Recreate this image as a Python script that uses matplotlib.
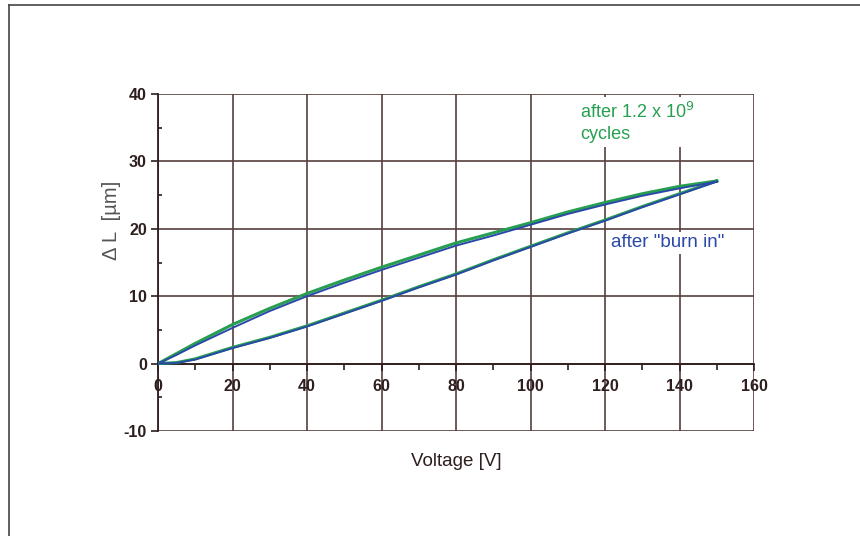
import numpy as np
import matplotlib
matplotlib.use("Agg")
from matplotlib import pyplot as plt
from matplotlib.lines import Line2D
from matplotlib.ticker import MultipleLocator

plt.rcParams["font.family"] = ["Liberation Sans", "DejaVu Sans"]
plt.rcParams["axes.unicode_minus"] = False

# ------ data

# after "burn in" (blue)
burn_up_v = [150, 140, 130, 120, 110, 100, 90, 80, 70, 60, 50, 40, 30, 20, 10, 5, 0]
burn_up_dl = [27.0, 26.0, 24.9, 23.6, 22.2, 20.6, 19.0, 17.5, 15.7, 13.9, 12.0, 10.0, 7.8, 5.3, 2.7, 1.3, 0.0]
burn_lo_v = [0, 5, 10, 20, 30, 40, 50, 60, 70, 80, 90, 100, 110, 120, 130, 140, 150]
burn_lo_dl = [0.0, 0.1, 0.6, 2.3, 3.8, 5.5, 7.4, 9.3, 11.3, 13.2, 15.3, 17.3, 19.3, 21.2, 23.2, 25.1, 27.0]

# after 1.2e9 cycles (green)
cyc_up_v = [150, 140, 130, 120, 110, 100, 90, 80, 70, 60, 50, 40, 30, 20, 10, 5, 0]
cyc_up_dl = [27.1, 26.3, 25.2, 23.9, 22.5, 20.9, 19.4, 17.9, 16.1, 14.3, 12.4, 10.4, 8.2, 5.8, 3.0, 1.5, 0.0]
cyc_lo_v = [0, 5, 10, 20, 30, 40, 50, 60, 70, 80, 90, 100, 110, 120, 130, 140, 150]
cyc_lo_dl = [0.0, 0.15, 0.7, 2.4, 3.9, 5.6, 7.5, 9.4, 11.4, 13.3, 15.4, 17.4, 19.4, 21.3, 23.3, 25.2, 27.1]

x_ticks = [0, 20, 40, 60, 80, 100, 120, 140, 160]
y_ticks = [-10, 0, 10, 20, 30, 40]

# ------

grid_c = "#583e3e"
lab_c = "#2e1e1e"
blue = "#2a48a8"
green = "#26a050"

fig = plt.figure(figsize=(8.6, 5.36), dpi=100)
ax = fig.add_axes([158 / 860, 105 / 536, 596 / 860, 337 / 536])

ax.plot(cyc_up_v + cyc_lo_v, cyc_up_dl + cyc_lo_dl, c=green, lw=2.2, zorder=3)
ax.plot(burn_up_v + burn_lo_v, burn_up_dl + burn_lo_dl, c=blue, lw=1.4, zorder=4)

ax.set_xlim(0, 160)
ax.set_ylim(-10, 40)
ax.set_xticks(x_ticks)
ax.set_yticks(y_ticks)
ax.xaxis.set_minor_locator(MultipleLocator(10))
ax.yaxis.set_minor_locator(MultipleLocator(5))
ax.grid(True, which="major", color=grid_c, lw=1.2, zorder=1)

for s in ["top", "right"]:
    ax.spines[s].set_visible(False)
ax.spines["bottom"].set_position(("data", 0))
ax.spines["bottom"].set_color(lab_c)
ax.spines["left"].set_color(lab_c)
ax.spines["left"].set_linewidth(1.3)
ax.spines["bottom"].set_linewidth(1.3)

ax.tick_params(axis="both", which="major", colors=lab_c, labelsize=11.5, length=5, width=1.2)
ax.tick_params(axis="x", which="minor", colors=lab_c, length=4, width=1.2, direction="out")
ax.tick_params(axis="y", which="minor", colors=lab_c, length=3, width=1.2, direction="in")
ax.tick_params(axis="x", which="major", pad=6)
ax.tick_params(axis="y", which="major", pad=3)
for t in ax.get_xticklabels() + ax.get_yticklabels():
    t.set_fontweight("bold")

ax.set_xlabel("Voltage [V]", fontsize=13.5, color=lab_c, labelpad=0)
ax.xaxis.set_label_coords(0.5, -0.066)
ax.set_ylabel("\u0394 L  [\u00b5m]", fontsize=14.5, color="#555555")
ax.yaxis.set_label_coords(-0.062, 0.626)

ax.text(113.4, 38.9, "after 1.2 x 10$^{9}$\ncycles", color=green, fontsize=13,
        va="top", ha="left", linespacing=1.35,
        bbox=dict(fc="white", ec="none", pad=3), zorder=5)
ax.text(121.5, 17.9, "after \"burn in\"", color=blue, fontsize=13.5,
        va="center", ha="left", bbox=dict(fc="white", ec="none", pad=2), zorder=5)

# outer frame of the figure (top and left only)
fig.add_artist(Line2D([8.5 / 860, 8.5 / 860], [0, 1 - 4.5 / 536], color="#444444", lw=1.2))
fig.add_artist(Line2D([8.5 / 860, 1], [1 - 4.5 / 536, 1 - 4.5 / 536], color="#444444", lw=1.2))

plt.savefig("out.png")
